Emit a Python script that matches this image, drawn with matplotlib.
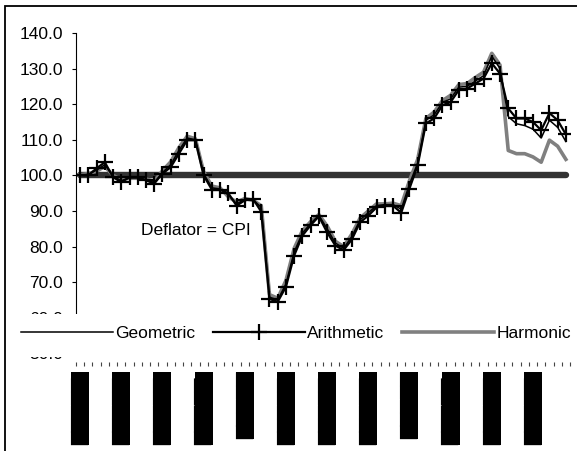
import numpy as np
import matplotlib.pyplot as plt
import matplotlib.transforms as mtransforms
from matplotlib.patches import Rectangle
from matplotlib.ticker import FixedLocator, FormatStrFormatter, NullFormatter

plt.rcParams['font.family'] = ['Liberation Sans Narrow', 'Liberation Sans', 'DejaVu Sans']

# index values (60 periods)
arithmetic = [100.0, 100.0, 102.0, 103.7, 99.5, 98.1, 99.5, 99.5, 98.6, 97.7,
              100.5, 102.3, 106.1, 109.9, 109.9, 100.0, 96.0, 96.0, 95.0, 91.5,
              93.0, 93.4, 89.8, 65.3, 64.5, 68.7, 77.5, 83.1, 86.0, 88.5,
              84.0, 80.3, 79.0, 82.0, 86.8, 88.7, 91.0, 91.5, 91.5, 89.5,
              96.3, 102.8, 114.6, 116.0, 119.7, 120.6, 124.0, 124.4, 125.8, 127.2,
              131.5, 128.6, 118.8, 116.0, 116.0, 115.0, 112.7, 117.5, 115.5, 111.5]
geometric = [100.0, 100.3, 101.5, 103.0, 99.8, 98.5, 99.3, 99.3, 98.8, 98.0,
             100.8, 103.0, 107.0, 110.5, 110.0, 100.5, 96.5, 96.2, 94.5, 92.0,
             93.2, 93.2, 91.0, 65.8, 65.0, 69.5, 78.5, 83.8, 86.5, 88.8,
             85.0, 81.0, 79.5, 82.8, 87.5, 89.5, 91.5, 91.8, 91.8, 90.5,
             97.5, 103.5, 115.5, 117.0, 120.5, 121.5, 124.8, 125.0, 126.5, 128.0,
             133.5, 130.0, 116.5, 114.5, 114.0, 113.0, 110.5, 115.5, 113.5, 109.5]
harmonic = [100.2, 100.5, 101.2, 102.5, 100.0, 98.8, 99.2, 99.2, 99.0, 98.3,
            101.3, 103.8, 107.8, 111.0, 110.3, 101.0, 97.0, 96.5, 94.0, 92.5,
            93.5, 93.0, 91.5, 66.5, 65.5, 70.5, 79.5, 84.5, 87.0, 89.0,
            85.8, 81.5, 80.0, 83.5, 88.0, 90.0, 92.0, 92.0, 92.2, 91.5,
            98.5, 104.5, 116.0, 117.8, 121.0, 122.5, 125.5, 125.8, 127.5, 129.0,
            134.3, 131.0, 107.0, 106.1, 106.1, 105.2, 103.7, 109.9, 108.2, 104.5]
cpi = [100.0] * 60

# category labels are blacked out in the source (every 5th period)
label_pos = [0, 5, 10, 15, 20, 25, 30, 35, 40, 45, 50, 55]
labels = ['\u2588' * 5 + '.'] * 12
labels[4] = '\u2588' * 5
labels[8] = '\u2588' * 5

x = np.arange(len(arithmetic))

fig = plt.figure(figsize=(5.77, 4.51), dpi=100)
ax = fig.add_axes([76 / 577, 1 - 353.4 / 451, (570 - 76) / 577, (353.4 - 33) / 451])

ax.plot(x, cpi, color='#333333', lw=4.6, solid_capstyle='round', zorder=1)
ax.plot(x, harmonic, color='#808080', lw=2.6, zorder=2, label='Harmonic')
ax.plot(x, geometric, color='black', lw=1.1, zorder=3, label='Geometric')
ax.plot(x, arithmetic, color='black', lw=1.6, marker='+', ms=11, mew=1.6,
        zorder=4, label='Arithmetic')

ax.set_xlim(-0.5, 59.5)
ax.set_ylim(50, 140)
ax.set_yticks(np.arange(50, 141, 10))
ax.yaxis.set_major_formatter(FormatStrFormatter('%.1f'))
ax.tick_params(axis='y', length=3, width=0.8, pad=6.5, labelsize=12.5)

# category ticks between points, no tick labels (labels drawn below as text)
ax.xaxis.set_major_locator(FixedLocator(np.arange(-0.5, 60, 1)))
ax.xaxis.set_major_formatter(NullFormatter())
ax.tick_params(axis='x', length=3, width=0.8, color='#444444')

trans = mtransforms.blended_transform_factory(ax.transData, ax.transAxes)
for pos, lab in zip(label_pos, labels):
    ax.text(pos, -0.058, lab, transform=trans, rotation=90, ha='center', va='top',
            family='DejaVu Sans', fontsize=12.6, color='black',
            bbox=dict(facecolor='black', edgecolor='none', pad=0))

for s in ['top', 'right', 'bottom']:
    ax.spines[s].set_visible(False)
ax.spines['bottom'].set_position(('outward', 6))
ax.spines['left'].set_linewidth(0.8)

ax.text(14.1, 84.6, 'Deflator = CPI', ha='center', va='center', fontsize=12.5)

# white legend band across the lower part of the plot
fig.add_artist(Rectangle((7 / 577, 1 - 357 / 451), 1, 43 / 451, transform=fig.transFigure,
                         facecolor='white', edgecolor='none', zorder=4.5))
handles, names = ax.get_legend_handles_labels()
order = [1, 2, 0]
leg = fig.legend([handles[i] for i in order], [names[i] for i in order],
                 loc='center', bbox_to_anchor=(296 / 577, 1 - 333 / 451), ncol=3,
                 frameon=False, fontsize=12.5, handlelength=5.3, handletextpad=0.15,
                 columnspacing=1.0, borderaxespad=0)
leg.set_zorder(5)

# outer chart border (cropped at right and bottom)
fig.add_artist(Rectangle((5 / 577, -0.5), 2, 1.5 - 6 / 451, transform=fig.transFigure,
                         facecolor='none', edgecolor='black', lw=1.3, zorder=6))

fig.savefig('out.png', dpi=100)
